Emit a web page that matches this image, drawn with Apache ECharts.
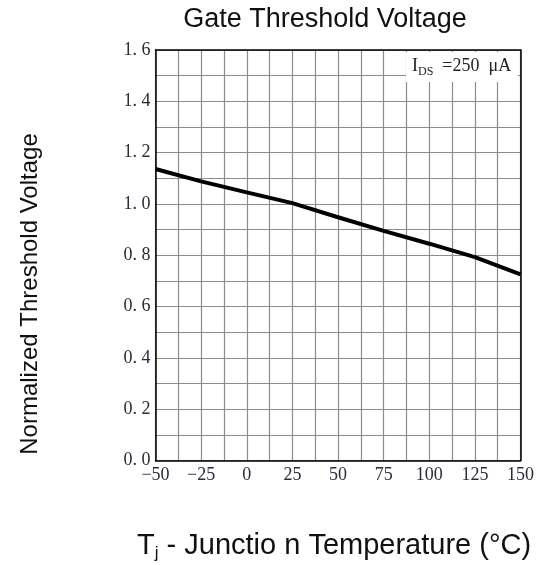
<!DOCTYPE html>
<html>
<head>
<meta charset="utf-8">
<script src="https://cdn.jsdelivr.net/npm/echarts@6/dist/echarts.min.js"></script>
<style>
  html, body { margin: 0; padding: 0; background: #fff; }
  #chart { width: 537px; height: 565px; }
</style>
</head>
<body>
<div id="chart"></div>
<script>
// data
var tempC = [-50, -25, 0, 25, 50, 75, 100, 125, 150];
var vthNorm = [1.136, 1.088, 1.045, 1.003, 0.948, 0.895, 0.845, 0.793, 0.725];

var xMin = -50, xMax = 150, xStep = 12.5;
var yMin = 0, yMax = 1.6, yStep = 0.1;

var serif = '"Liberation Serif", "DejaVu Serif", serif';
var sans = '"Liberation Sans", Arial, sans-serif';

var myChart = echarts.init(document.getElementById('chart'));

var points = tempC.map(function (t, i) { return [t, vthNorm[i]]; });

var option = {
    animation: false,
    backgroundColor: '#fff',
    title: {
        text: 'Gate Threshold Voltage',
        left: 320, top: 1, textAlign: 'center',
        textStyle: { fontFamily: sans, fontSize: 27, fontWeight: 'normal', color: '#111' }
    },
    grid: { left: 155.5, top: 50, right: 15.5, bottom: 104.5 },
    xAxis: [{
        type: 'value', min: xMin, max: xMax, interval: xStep,
        axisLine: { lineStyle: { color: '#000', width: 1.5 } },
        axisTick: { show: false },
        axisLabel: {
            margin: 6, fontFamily: serif, fontSize: 18, color: '#2a2a3a',
            formatter: function (v) {
                if (v % 25 !== 0) return '';
                return v < 0 ? '\u2212' + Math.abs(v) : String(v);
            }
        },
        splitLine: { lineStyle: { color: '#8c8c8c', width: 1.2 } }
    }, {
        type: 'value', position: 'top', min: xMin, max: xMax,
        axisLine: { onZero: false, lineStyle: { color: '#000', width: 1.5 } },
        axisTick: { show: false }, axisLabel: { show: false }, splitLine: { show: false }
    }],
    yAxis: [{
        type: 'value', min: yMin, max: yMax, interval: yStep,
        axisLine: { show: true, onZero: false, lineStyle: { color: '#000', width: 1.5 } },
        axisTick: { show: false },
        axisLabel: {
            margin: 5, fontFamily: serif, fontSize: 18, color: '#2a2a3a',
            formatter: function (v) {
                var k = Math.round(v * 10);
                if (k % 2 !== 0) return '';
                return (k / 10).toFixed(1).replace('.', '. ');
            }
        },
        splitLine: { lineStyle: { color: '#8c8c8c', width: 1.2 } }
    }, {
        type: 'value', position: 'right', min: yMin, max: yMax,
        axisLine: { show: true, onZero: false, lineStyle: { color: '#000', width: 1.5 } },
        axisTick: { show: false }, axisLabel: { show: false }, splitLine: { show: false }
    }],
    graphic: [{
        type: 'rect', left: 406, top: 52, z: 10,
        shape: { width: 112, height: 30 },
        style: { fill: '#fff' }
    }, {
        type: 'text', left: 412, top: 57, z: 11,
        style: {
            text: '{i|I}{s|DS}{v|  =250  \u03bcA}',
            rich: {
                i: { fontFamily: serif, fontSize: 18, fill: '#222' },
                s: { fontFamily: serif, fontSize: 12, fill: '#222', verticalAlign: 'bottom', padding: [12, 0, 0, 0] },
                v: { fontFamily: serif, fontSize: 18, fill: '#222' }
            }
        }
    }, {
        type: 'text', x: 30, y: 294, rotation: Math.PI / 2, z: 5,
        style: {
            text: 'Normalized Threshold Voltage', x: 0, y: 0,
            align: 'center', verticalAlign: 'middle',
            font: '24px ' + sans, fill: '#111'
        }
    }, {
        type: 'text', left: 137, top: 531, z: 5,
        style: {
            text: '{t|T}{j|j}{t| - Junctio n Temperature (\u00b0C)}',
            rich: {
                t: { fontFamily: sans, fontSize: 29, fill: '#111' },
                j: { fontFamily: sans, fontSize: 17, fill: '#111', padding: [16, 0, 0, 0] }
            }
        }
    }],
    series: [{
        name: 'Vth',
        type: 'line',
        data: points,
        showSymbol: false,
        symbol: 'none',
        lineStyle: { color: '#000', width: 4 },
        z: 5
    }]
};

myChart.setOption(option);
</script>
</body>
</html>
